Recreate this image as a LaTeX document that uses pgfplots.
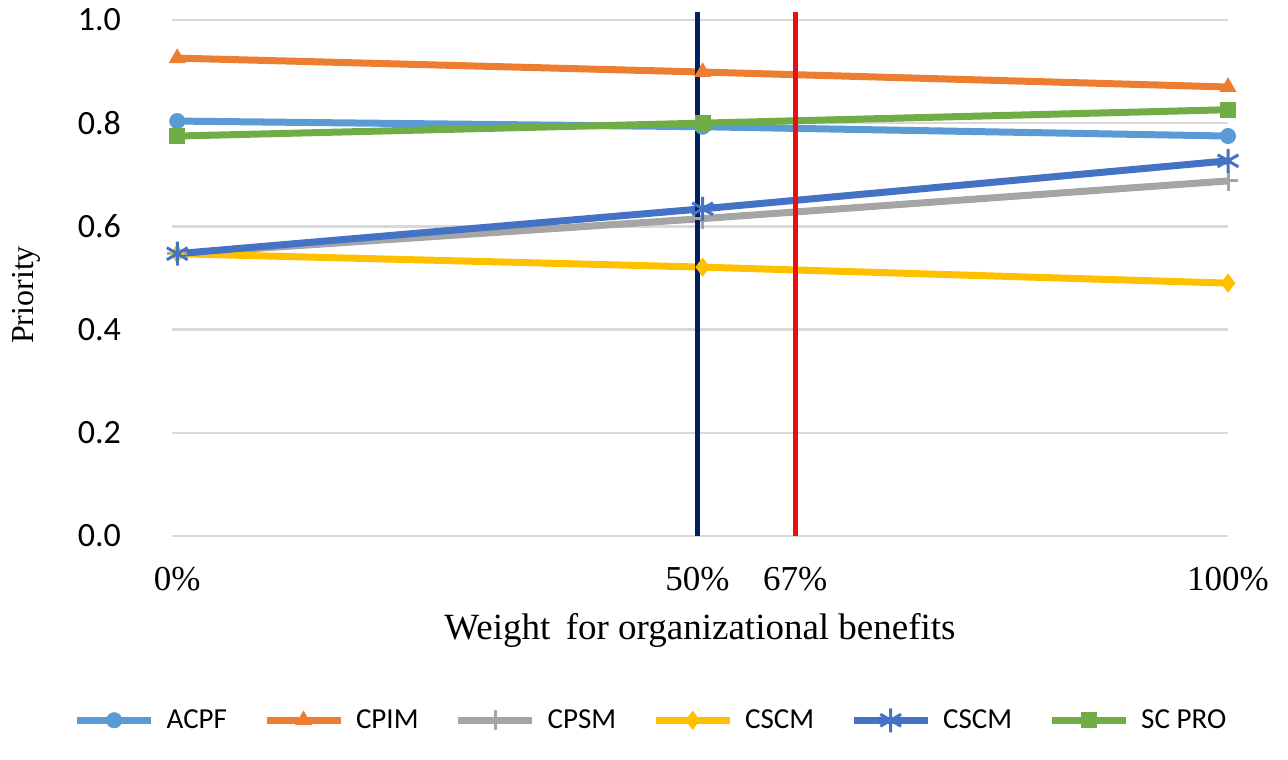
\documentclass[border=0pt]{standalone}
\usepackage{pgfplots}
\pgfplotsset{compat=1.18}
\usepackage{fontspec}
\setmainfont{Liberation Serif}
\newfontfamily\calfont{Carlito}
\definecolor{cACPF}{HTML}{5B9BD5}
\definecolor{cCPIM}{HTML}{ED7D31}
\definecolor{cCPSM}{HTML}{A5A5A5}
\definecolor{cCSCMy}{HTML}{FFC000}
\definecolor{cCSCMb}{HTML}{4472C4}
\definecolor{cSCPRO}{HTML}{70AD47}
\definecolor{navyline}{HTML}{002060}
\definecolor{redline}{HTML}{E81010}
\definecolor{gridgray}{HTML}{D9D9D9}
\begin{document}
\begin{tikzpicture}
\path[use as bounding box] (0,0) rectangle (644pt,-379.5pt);
\begin{axis}[
    at={(86pt,-268pt)}, anchor=south west,
    scale only axis,
    width=528pt, height=263.2pt,
    xmin=-0.5, xmax=100, ymin=0, ymax=1.02,
    axis line style={draw=none},
    major tick length=0pt,
    ymajorgrids,
    grid style={gridgray, line width=1.2pt},
    ytick={0,0.2,0.4,0.6,0.8,1.0},
    yticklabels={0.0,0.2,0.4,0.6,0.8,1.0},
    yticklabel style={font=\calfont\fontsize{17}{20}\selectfont, xshift=-22pt},
    xtick={0,49.5,58.8,100},
    xticklabels={0\%,50\%,67\%,100\%},
    xticklabel style={font=\fontsize{17.5}{20}\selectfont, yshift=-12pt},
    xlabel={Weight\, for organizational benefits},
    xlabel style={font=\fontsize{18.5}{22}\selectfont, at={(rel axis cs:0.5,0)}, anchor=center, yshift=-47pt},
    ylabel={Priority},
    ylabel style={font=\fontsize{16}{18}\selectfont, at={(rel axis cs:0,0.458)}, anchor=center, yshift=73pt},
    every axis plot/.append style={line width=3.5pt},
    legend columns=6,
    legend style={draw=none, fill=none, at={(rel axis cs:0.4545,-0.35)}, anchor=center,
        font=\calfont\fontsize{14.5}{16}\selectfont,
        /tikz/every odd column/.append style={column sep=4pt},
        /tikz/every even column/.append style={column sep=16pt}},
    legend image code/.code={
        \draw[mark repeat=2, mark phase=2, #1] plot coordinates {(0pt,0pt) (18.5pt,0pt) (37pt,0pt)};},
]
\addplot[cACPF, mark=*, mark size=3.8pt, mark options={line width=0.4pt}] coordinates {(0,0.804) (50,0.793) (100,0.775)};
\addlegendentry{ACPF}
\addplot[cCPIM, mark=triangle*, mark size=4.5pt, mark options={line width=0.4pt}] coordinates {(0,0.926) (50,0.899) (100,0.870)};
\addlegendentry{CPIM}
\addplot[cCPSM, mark=+, mark size=5pt, mark options={line width=1.5pt}] coordinates {(0,0.547) (50,0.615) (100,0.688)};
\addlegendentry{CPSM}
\addplot[cCSCMy, mark=diamond*, mark size=4.5pt, mark options={line width=0.4pt}] coordinates {(0,0.547) (50,0.521) (100,0.490)};
\addlegendentry{CSCM}
\addplot[cCSCMb, mark=asterisk, mark size=6pt, mark options={line width=1.5pt}] coordinates {(0,0.547) (50,0.634) (100,0.727)};
\addlegendentry{CSCM}
\addplot[cSCPRO, mark=square*, mark size=3.8pt, mark options={line width=0.4pt}] coordinates {(0,0.775) (50,0.800) (100,0.826)};
\addlegendentry{SC PRO}
\addplot[navyline, line width=2.6pt, forget plot] coordinates {(49.5,0) (49.5,1.015)};
\addplot[redline, line width=2.6pt, forget plot] coordinates {(58.8,0) (58.8,1.015)};
\end{axis}
\end{tikzpicture}
\end{document}
